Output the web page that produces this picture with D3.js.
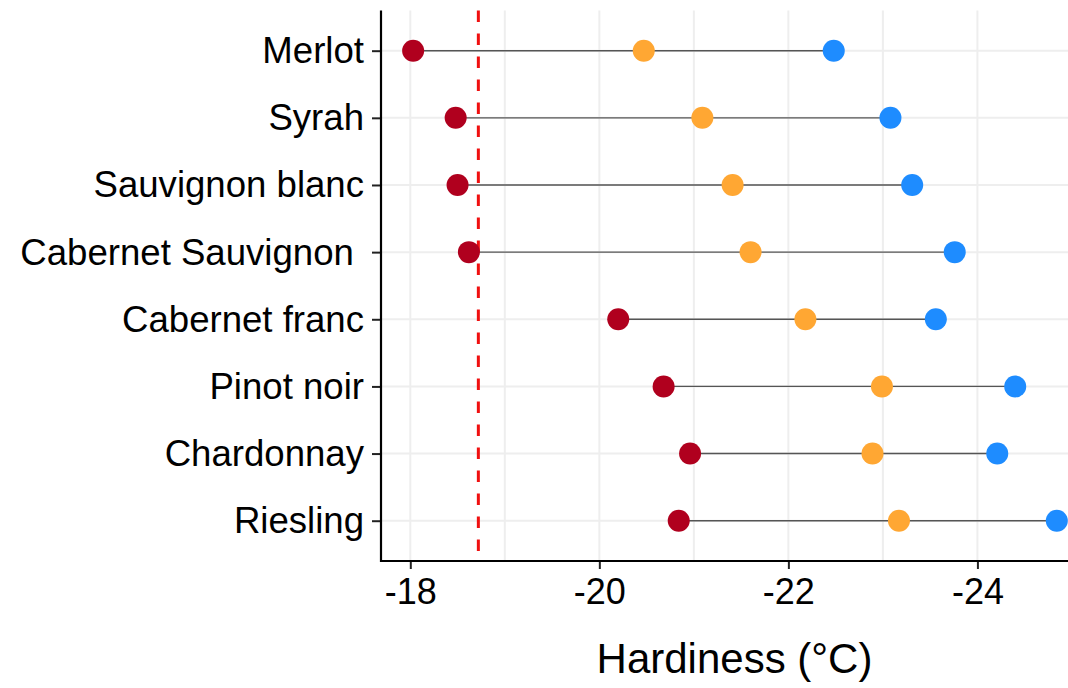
<!DOCTYPE html>
<html>
<head>
<meta charset="utf-8">
<script src="https://cdn.jsdelivr.net/npm/d3@7/dist/d3.min.js"></script>
<style>
  html, body { margin: 0; padding: 0; background: #ffffff; }
  svg { display: block; }
  text { font-family: "Liberation Sans", Arial, sans-serif; fill: #000000; }
</style>
</head>
<body>
<svg id="chart" width="1068" height="688"></svg>
<script>
// Grape varieties, top to bottom
const varieties = ["Merlot", "Syrah", "Sauvignon blanc", "Cabernet Sauvignon ",
                   "Cabernet franc", "Pinot noir", "Chardonnay", "Riesling"];
// Cold hardiness (°C) at three points of the season
const earlyHardiness = [-18.03, -18.48, -18.50, -18.62, -20.20, -20.68, -20.96, -20.84];
const midHardiness   = [-20.47, -21.09, -21.41, -21.60, -22.18, -22.99, -22.89, -23.17];
const peakHardiness  = [-22.48, -23.08, -23.31, -23.76, -23.56, -24.40, -24.21, -24.84];
// Reference temperature marked with the dashed line
const threshold = -18.72;
// Axis ticks
const xTicks = [-18, -20, -22, -24];
const xGrid = [-18, -19, -20, -21, -22, -23, -24, -25];
const xTitle = "Hardiness (°C)";

const seriesColors = ["#B0001E", "#FFA733", "#1E8CFF"];

const svg = d3.select("#chart");
const panel = { left: 381, right: 1088, top: 10.4, bottom: 561 };

const x = d3.scaleLinear().domain([-17.69, -25.17]).range([panel.left, panel.right]);
const y = d3.scalePoint().domain(varieties).range([panel.top, panel.bottom]).padding(0.6);

const rows = varieties.map((v, i) => ({
  name: v,
  values: [earlyHardiness[i], midHardiness[i], peakHardiness[i]]
}));

// Grid
const grid = svg.append("g");
grid.selectAll("line.v").data(xGrid).join("line")
  .attr("x1", d => x(d)).attr("x2", d => x(d))
  .attr("y1", panel.top).attr("y2", panel.bottom)
  .attr("stroke", "#EEEEEE").attr("stroke-width", 2);
grid.selectAll("line.h").data(varieties).join("line")
  .attr("x1", panel.left).attr("x2", panel.right)
  .attr("y1", d => y(d)).attr("y2", d => y(d))
  .attr("stroke", "#EEEEEE").attr("stroke-width", 2);

// Range segments
svg.append("g").selectAll("line").data(rows).join("line")
  .attr("x1", d => x(d3.max(d.values))).attr("x2", d => x(d3.min(d.values)))
  .attr("y1", d => y(d.name)).attr("y2", d => y(d.name))
  .attr("stroke", "#555555").attr("stroke-width", 1.4);

// Threshold line
svg.append("line")
  .attr("x1", x(threshold)).attr("x2", x(threshold))
  .attr("y1", panel.top).attr("y2", panel.bottom)
  .attr("stroke", "#F01010").attr("stroke-width", 3)
  .attr("stroke-dasharray", "11.5,11.5");

// Dots
const dots = svg.append("g");
rows.forEach(r => {
  dots.selectAll(null).data(r.values).join("circle")
    .attr("cx", d => x(d)).attr("cy", y(r.name)).attr("r", 11)
    .attr("fill", (d, i) => seriesColors[i]);
});

// Axes (plain hyphen-minus in tick labels)
const xAxis = svg.append("g").attr("transform", `translate(0,${panel.bottom})`)
  .call(d3.axisBottom(x).tickValues(xTicks).tickSize(8).tickPadding(0)
    .tickFormat(d => String(d)));
xAxis.select(".domain").remove();
xAxis.selectAll(".tick line").attr("stroke", "#222").attr("stroke-width", 2);
xAxis.selectAll(".tick text").attr("y", 43).attr("dy", null)
  .style("font-size", "36px").style("font-family", "'Liberation Sans', Arial, sans-serif");

const yAxis = svg.append("g").attr("transform", `translate(${panel.left},0)`)
  .call(d3.axisLeft(y).tickSize(9).tickPadding(0));
yAxis.select(".domain").remove();
yAxis.selectAll(".tick line").attr("stroke", "#222").attr("stroke-width", 2);
yAxis.selectAll(".tick text").attr("x", -17).attr("dy", null).attr("y", 12)
  .attr("xml:space", "preserve").style("white-space", "pre")
  .style("font-size", "36.6px").style("font-family", "'Liberation Sans', Arial, sans-serif");

// Axis lines
svg.append("line").attr("x1", panel.left).attr("x2", panel.left)
  .attr("y1", panel.top).attr("y2", panel.bottom + 1)
  .attr("stroke", "#000").attr("stroke-width", 2.2);
svg.append("line").attr("x1", panel.left - 1).attr("x2", panel.right)
  .attr("y1", panel.bottom).attr("y2", panel.bottom)
  .attr("stroke", "#000").attr("stroke-width", 2.2);

// Axis title
svg.append("text")
  .attr("x", (panel.left + panel.right) / 2).attr("y", 673)
  .attr("text-anchor", "middle")
  .style("font-size", "42px")
  .text(xTitle);
</script>
</body>
</html>
